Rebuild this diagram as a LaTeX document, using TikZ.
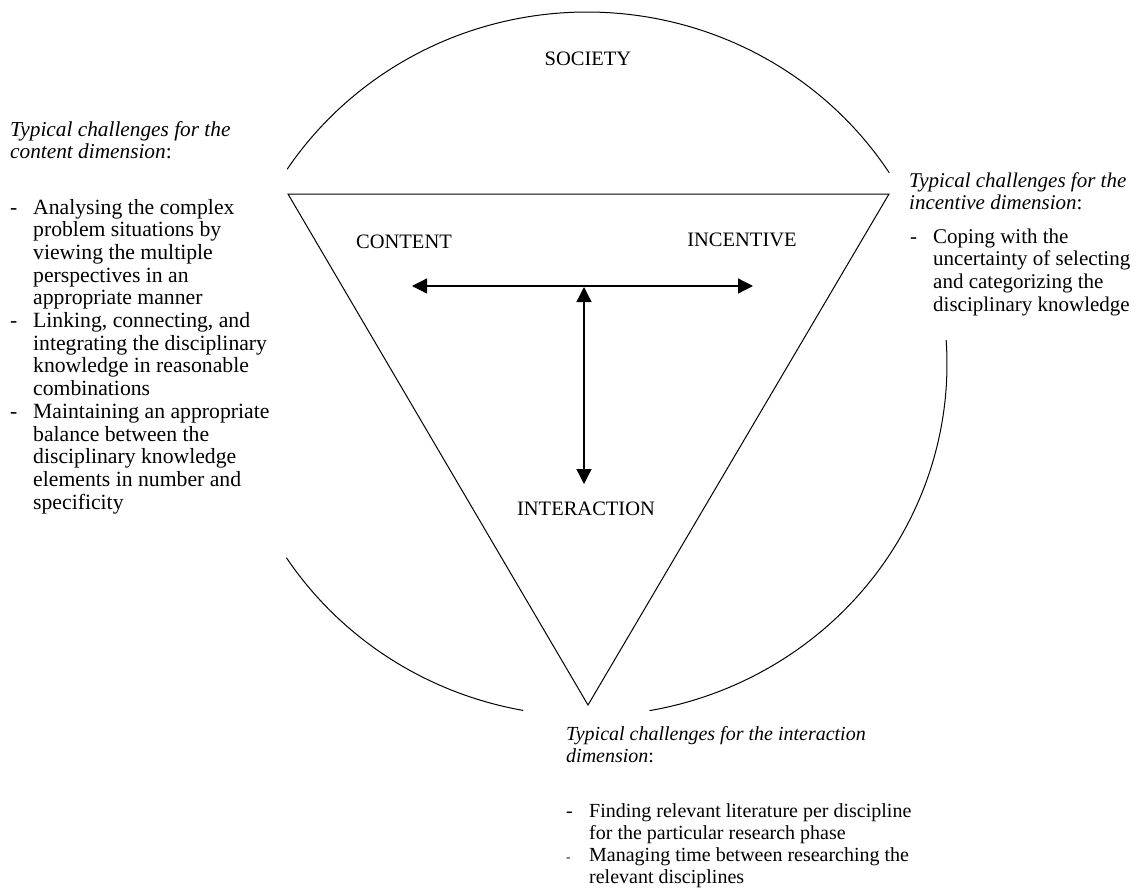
\documentclass[tikz,border=0pt]{standalone}
\usepackage{fontspec}
\setmainfont{Liberation Serif}
\usetikzlibrary{arrows.meta}

% list helpers: a dash in a hanging column, and the matching indent
\newcommand\itemdash{\makebox[23bp][l]{-}}
\newcommand\smalldash{\makebox[23bp][l]{\fontsize{13bp}{13bp}\selectfont -}}
\newcommand\itemhang{\hspace*{23bp}}

\begin{document}
\begin{tikzpicture}[x=1bp,y=-1bp,
  outline/.style={line width=1bp, black},
  duo/.style={line width=1.3bp,
    {Triangle[length=15bp,width=15bp]}-{Triangle[length=15bp,width=15bp]}},
  dimlabel/.style={inner sep=0pt, anchor=base,
    font=\fontsize{20.5bp}{22.7bp}\selectfont},
  notes/.style={inner sep=0pt, anchor=base west,
    font=\fontsize{20.5bp}{22.7bp}\selectfont},
  leftnotes/.style={notes, font=\fontsize{21.3bp}{22.7bp}\selectfont},
  leftlist/.style={notes, font=\fontsize{21.7bp}{22.7bp}\selectfont},
  rightnotes/.style={notes, font=\fontsize{21bp}{22.7bp}\selectfont},
  lownotes/.style={notes, font=\fontsize{20bp}{22.2bp}\selectfont}
]
\useasboundingbox (0,0) rectangle (1138,894);

% the surrounding society, broken where the notes sit
\draw[outline] plot[domain=213.6:327.1, samples=120]
  ({587+360*cos(\x)}, {364+352*sin(\x)});
\draw[outline] plot[domain=-3.9:80, samples=120]
  ({587+360*cos(\x)}, {364+352*sin(\x)});
\draw[outline] plot[domain=100.2:146.6, samples=80]
  ({587+360*cos(\x)}, {364+352*sin(\x)});

% the three dimensions
\coordinate (tl) at (288,194);
\coordinate (tr) at (889,194);
\coordinate (bt) at (588,705);
\draw[outline, line join=miter] (tl) -- (tr) -- (bt) -- cycle;

\node[dimlabel] (society) at (588,65) {SOCIETY};
\node[dimlabel] (content) at (404,248) {CONTENT};
\node[dimlabel] (incentive) at (742,246) {INCENTIVE};
\node[dimlabel] (interaction) at (586,515) {INTERACTION};

\coordinate (hleft) at (412,286);
\coordinate (hright) at (753,286);
\coordinate (vtop) at (584,287);
\coordinate (vbottom) at (584,484);
\draw[duo] (hleft) -- (hright);
\draw[duo] (vtop) -- (vbottom);

% notes on the content dimension
\node[leftnotes] (contenthead) at (10,136) {\parbox[t]{400bp}{\raggedright
  \textit{Typical challenges for the}\\
  \textit{content dimension}:}};
\node[leftlist] (contentlist) at (10,214) {\parbox[t]{400bp}{\raggedright
  \itemdash Analysing the complex\\
  \itemhang problem situations by\\
  \itemhang viewing the multiple\\
  \itemhang perspectives in an\\
  \itemhang appropriate manner\\
  \itemdash Linking, connecting, and\\
  \itemhang integrating the disciplinary\\
  \itemhang knowledge in reasonable\\
  \itemhang combinations\\
  \itemdash Maintaining an appropriate\\
  \itemhang balance between the\\
  \itemhang disciplinary knowledge\\
  \itemhang elements in number and\\
  \itemhang specificity}};

% notes on the incentive dimension
\node[rightnotes] (incentivehead) at (909,187) {\parbox[t]{400bp}{\raggedright
  \textit{Typical challenges for the}\\
  \textit{incentive dimension}:}};
\node[rightnotes] (incentivelist) at (910,243) {\parbox[t]{400bp}{\raggedright
  \itemdash Coping with the\\
  \itemhang uncertainty of selecting\\
  \itemhang and categorizing the\\
  \itemhang disciplinary knowledge}};

% notes on the interaction dimension
\node[lownotes] (interactionhead) at (566,740) {\parbox[t]{500bp}{\raggedright
  \textit{Typical challenges for the interaction}\\
  \textit{dimension}:}};
\node[lownotes] (interactionlist) at (566,817) {\parbox[t]{500bp}{\raggedright
  \itemdash Finding relevant literature per discipline\\
  \itemhang for the particular research phase\\
  \smalldash Managing time between researching the\\
  \itemhang relevant disciplines}};
\end{tikzpicture}
\end{document}
